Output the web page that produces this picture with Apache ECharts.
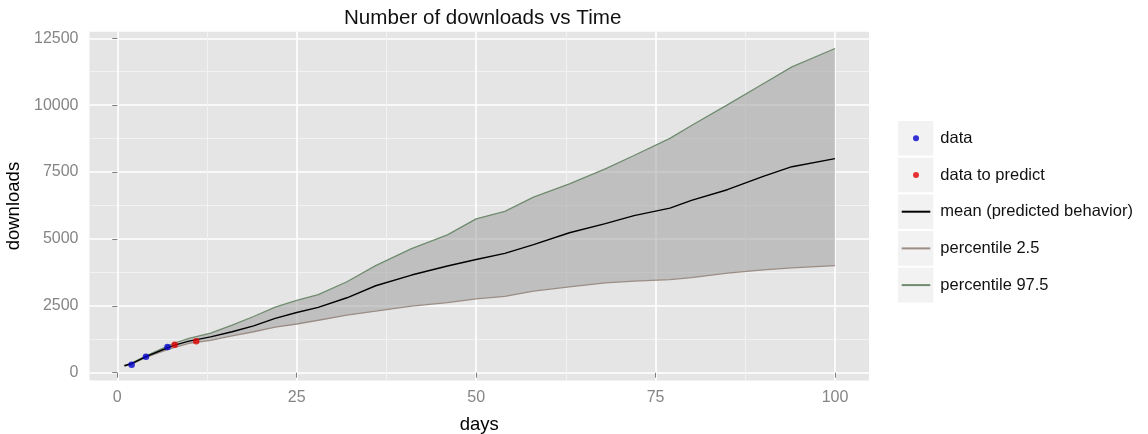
<!DOCTYPE html>
<html><head><meta charset="utf-8">
<script src="https://cdn.jsdelivr.net/npm/echarts@6/dist/echarts.min.js"></script>
<style>html,body{margin:0;padding:0;background:#fff}#c{width:1148px;height:434px}</style>
</head><body><div id="c"></div>
<script>
// ---- data ----
const days      = [1, 2, 4, 6, 8, 10, 13, 16, 19, 22, 25, 28, 32, 36, 41, 46, 50, 54, 58, 63, 68, 72, 77, 80, 85, 90, 94, 100];
const meanVals  = [260, 340, 600, 820, 1030, 1180, 1340, 1530, 1750, 2030, 2250, 2440, 2800, 3250, 3650, 3990, 4230, 4460, 4790, 5230, 5570, 5870, 6150, 6440, 6840, 7340, 7700, 8000];
const lowerVals = [250, 320, 570, 770, 950, 1100, 1210, 1380, 1530, 1700, 1820, 1960, 2150, 2300, 2490, 2620, 2760, 2850, 3050, 3210, 3360, 3420, 3480, 3550, 3720, 3840, 3920, 4000];
const upperVals = [270, 360, 630, 870, 1110, 1280, 1480, 1780, 2100, 2450, 2700, 2920, 3400, 4000, 4640, 5150, 5750, 6030, 6560, 7060, 7620, 8120, 8760, 9240, 10010, 10800, 11430, 12120];
const dataDays    = [2, 4, 7];
const dataVals    = [300, 600, 960];
const predictDays = [8, 11];
const predictVals = [1045, 1175];
const xMajorTicks = [0, 25, 50, 75, 100];
const xMinorTicks = [12.5, 37.5, 62.5, 87.5];
const yMajorTicks = [0, 2500, 5000, 7500, 10000, 12500];
const yMinorTicks = [1250, 3750, 6250, 8750, 11250];
const pointNames  = ['data', 'data to predict'];
const lineNames   = ['mean (predicted behavior)', 'percentile 2.5', 'percentile 97.5'];

// ---- layout / style ----
const FONT = 'Liberation Sans, Arial, sans-serif';
const GRID = {left: 89.5, top: 31.7, right: 1148 - 869, bottom: 434 - 380.5};
const LEG = {left: 900.7, top: 129.3, itemW: 28.6, itemH: 6, lineH: 18, pitch: 36.7};

const pairs = (xs, ys) => xs.map((x, i) => [x, ys[i]]);
const legendNames = pointNames.concat(lineNames);
const legendData = pointNames.map(n => ({name: n}))
  .concat(lineNames.map(n => ({name: n, itemStyle: {opacity: 0}})));

const chart = echarts.init(document.getElementById('c'), null, {renderer: 'canvas'});

const keyRects = legendNames.map((n, i) => ({
  type: 'rect', z: -1,
  shape: {x: LEG.left - 2.7, y: LEG.top + LEG.lineH / 2 + i * LEG.pitch - 17.3, width: 35.3, height: 34.6},
  style: {fill: '#F2F2F2'}
}));

const plainNum = v => String(v);

const majorAxisX = {
  type: 'value', min: -3.87, max: 104.74, gridIndex: 0,
  axisLine: {show: false},
  axisTick: {show: true, length: 5, lineStyle: {color: '#7F7F7F', width: 1}, customValues: xMajorTicks},
  axisLabel: {show: true, customValues: xMajorTicks, formatter: plainNum, color: '#858585', fontSize: 16, fontFamily: FONT, margin: 9},
  splitLine: {show: true, lineStyle: {color: '#FFFFFF', width: 1.6}},
  name: 'days', nameLocation: 'middle', nameGap: 34.5,
  nameTextStyle: {color: '#000', fontSize: 18.5, fontFamily: FONT}
};
const minorAxisX = {
  type: 'value', min: -3.87, max: 104.74, gridIndex: 0, position: 'top',
  axisLine: {show: false}, axisLabel: {show: false},
  axisTick: {show: false, customValues: xMinorTicks},
  splitLine: {show: true, lineStyle: {color: '#F2F2F2', width: 1}}
};
const majorAxisY = {
  type: 'value', min: -292, max: 12747, gridIndex: 0,
  axisLine: {show: false},
  axisTick: {show: true, length: 5, lineStyle: {color: '#7F7F7F', width: 1}, customValues: yMajorTicks},
  axisLabel: {show: true, customValues: yMajorTicks, formatter: plainNum, color: '#858585', fontSize: 16, fontFamily: FONT, margin: 11},
  splitLine: {show: true, lineStyle: {color: '#FFFFFF', width: 1.6}},
  name: 'downloads', nameLocation: 'middle', nameGap: 60,
  nameTextStyle: {color: '#000', fontSize: 18.5, fontFamily: FONT}
};
const minorAxisY = {
  type: 'value', min: -292, max: 12747, gridIndex: 0, position: 'right',
  axisLine: {show: false}, axisLabel: {show: false},
  axisTick: {show: false, customValues: yMinorTicks},
  splitLine: {show: true, lineStyle: {color: '#F2F2F2', width: 1}}
};

function renderBand(params, api) {
  const pts = [];
  for (let i = 0; i < days.length; i++) pts.push(api.coord([days[i], upperVals[i]]));
  for (let i = days.length - 1; i >= 0; i--) pts.push(api.coord([days[i], lowerVals[i]]));
  return {type: 'polygon', shape: {points: pts}, style: {fill: 'rgba(160,160,160,0.55)'}};
}

const option = {
  animation: false,
  backgroundColor: '#FFFFFF',
  title: {
    text: 'Number of downloads vs Time', left: 339, top: 3,
    textStyle: {color: '#111', fontSize: 20.6, fontWeight: 'normal', fontFamily: FONT}
  },
  grid: {left: GRID.left, top: GRID.top, right: GRID.right, bottom: GRID.bottom,
         show: true, backgroundColor: '#E5E5E5', borderWidth: 0, containLabel: false,
         outerBoundsMode: 'none'},
  xAxis: [minorAxisX, majorAxisX],
  yAxis: [minorAxisY, majorAxisY],
  legend: {
    data: legendData, orient: 'vertical', left: LEG.left, top: LEG.top, padding: 0,
    itemWidth: LEG.itemW, itemHeight: LEG.itemH, itemGap: LEG.pitch - LEG.lineH,
    selectedMode: false,
    textStyle: {color: '#111', fontSize: 16.5, fontFamily: FONT, lineHeight: LEG.lineH, padding: [0, 0, 0, 5]}
  },
  graphic: keyRects,
  series: [
    {name: 'band', type: 'custom', xAxisIndex: 1, yAxisIndex: 1, data: [[0, 0]],
     renderItem: renderBand, silent: true, z: 1},
    {name: lineNames[1], type: 'line', xAxisIndex: 1, yAxisIndex: 1,
     data: pairs(days, lowerVals), symbol: 'none', showSymbol: false, color: '#9B8D84', lineStyle: {color: '#9B8D84', width: 1.3}, z: 3},
    {name: lineNames[2], type: 'line', xAxisIndex: 1, yAxisIndex: 1,
     data: pairs(days, upperVals), symbol: 'none', showSymbol: false, color: '#6F8C6F', lineStyle: {color: '#6F8C6F', width: 1.3}, z: 3},
    {name: lineNames[0], type: 'line', xAxisIndex: 1, yAxisIndex: 1,
     data: pairs(days, meanVals), symbol: 'none', showSymbol: false, color: '#000000', lineStyle: {color: '#000000', width: 1.4}, z: 4},
    {name: pointNames[0], type: 'scatter', xAxisIndex: 1, yAxisIndex: 1,
     data: pairs(dataDays, dataVals), symbol: 'circle', symbolSize: 6.5, itemStyle: {color: '#0000CC'}, z: 5},
    {name: pointNames[1], type: 'scatter', xAxisIndex: 1, yAxisIndex: 1,
     data: pairs(predictDays, predictVals), symbol: 'circle', symbolSize: 6.5, itemStyle: {color: '#E00000'}, z: 5}
  ]
};
chart.setOption(option);
</script>
</body></html>
